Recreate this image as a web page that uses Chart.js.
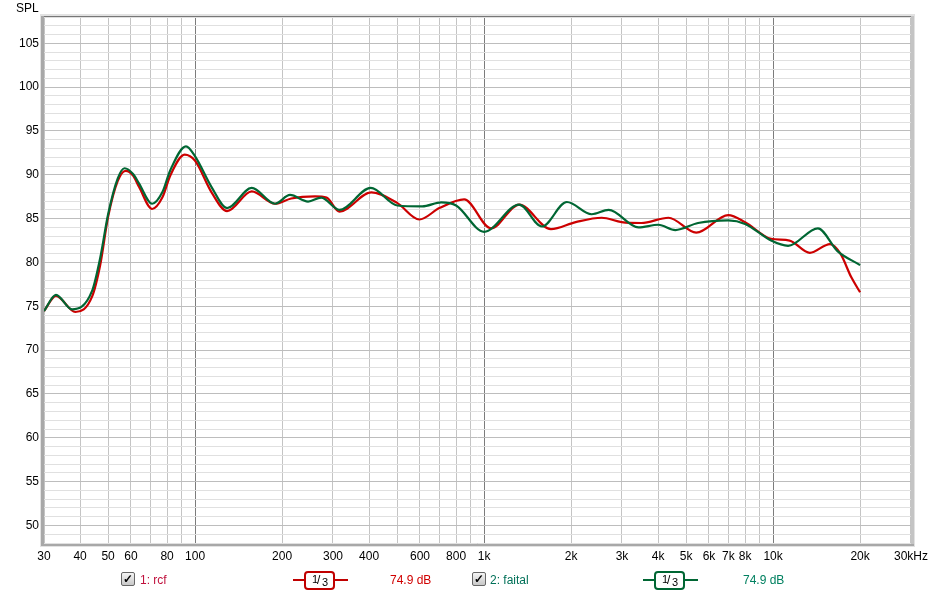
<!DOCTYPE html>
<html>
<head>
<meta charset="utf-8">
<script src="https://cdn.jsdelivr.net/npm/chart.js@4/dist/chart.umd.min.js"></script>
<style>
  body { margin: 0; background: #fff; font-family: "Liberation Sans", Arial, sans-serif; }
  #wrap { position: relative; width: 934px; height: 595px; }
  #spl { position: absolute; left: 16px; top: 1px; font-size: 12px; color: #000; }
  .lg { position: absolute; top: 572px; font-size: 12px; line-height: 16px; white-space: nowrap; }
  .chk { position: absolute; top: 572px; width: 12px; height: 12px; border: 1px solid #666;
         border-radius: 2px; background: linear-gradient(#f4f4f4, #c8c8c8); font-size: 12px; line-height: 12px;
         text-align: center; font-weight: bold; color: #000; }
  .oct { position: absolute; top: 571px; height: 20px; }
  .oct .ln { position: absolute; top: 8px; height: 2px; }
  .oct .bx { position: absolute; top: 0; width: 27px; height: 15px; border: 2px solid; border-radius: 4px;
             background: #fff; color: #000; }
  .oct .n1 { position: absolute; left: 6px; top: 0px; font-size: 11px; }
  .oct .sl { position: absolute; left: 11px; top: 0px; font-size: 12px; }
  .oct .n3 { position: absolute; left: 16px; top: 3px; font-size: 11px; }
</style>
</head>
<body>
<div id="wrap">
  <canvas id="spl-chart" width="934" height="595"></canvas>
  <div id="spl">SPL</div>

  <div class="chk" style="left:121px">&#10003;</div>
  <div class="lg" style="left:140px;color:#c0103c">1: rcf</div>
  <div class="oct" style="left:293px;width:55px">
    <div class="ln" style="left:0;width:55px;background:#c00000"></div>
    <div class="bx" style="left:11px;border-color:#c00000"><span class="n1">1</span><span class="sl">/</span><span class="n3">3</span></div>
  </div>
  <div class="lg" style="left:390px;color:#d00000">74.9 dB</div>

  <div class="chk" style="left:472px">&#10003;</div>
  <div class="lg" style="left:490px;color:#007058">2: faital</div>
  <div class="oct" style="left:643px;width:55px">
    <div class="ln" style="left:0;width:55px;background:#006633"></div>
    <div class="bx" style="left:11px;border-color:#006633"><span class="n1">1</span><span class="sl">/</span><span class="n3">3</span></div>
  </div>
  <div class="lg" style="left:743px;color:#008060">74.9 dB</div>
</div>

<script>
// Frequency response data (Hz, dB SPL)
var rcfFreq = [30, 33, 38.5, 44, 47, 50, 54, 57.5, 61, 64, 71, 77, 82, 92, 100, 114, 129, 157, 189, 215, 260, 285, 316,
  407, 500, 597, 700, 853, 1057, 1322, 1703, 2075, 2553, 2991, 3500, 4345, 5420, 6995, 8000, 9840, 11400,
  13400, 15740, 17100, 18650, 20000];
var rcfSpl = [74.45, 76.2, 74.35, 76.1, 79.8, 85.2, 89.3, 90.45, 89.9, 88.6, 86.1, 87.4, 89.9, 92.3, 91.6, 88.0, 85.85, 88.1, 86.7, 87.3, 87.55, 87.4, 85.8,
  88.0, 86.8, 84.9, 86.2, 87.2, 83.9, 86.6, 83.8, 84.6, 85.1, 84.6, 84.5, 85.1, 83.4, 85.4, 84.6, 82.7, 82.5,
  81.1, 82.1, 81.0, 78.3, 76.6];

var faitalFreq = [30, 33, 37.5, 44, 47, 50, 54, 57, 61, 64, 71, 77, 82, 93, 100, 114, 129, 157, 189, 213, 246, 273, 316,
  405, 501, 611, 711, 800, 1000, 1322, 1585, 1933, 2356, 2697, 3420, 4010, 4590, 5500, 7000, 8000, 9840,
  11270, 14290, 16700, 20000];
var faitalSpl = [74.45, 76.3, 74.65, 76.75, 80.6, 85.5, 89.6, 90.75, 90.1, 89.0, 86.7, 88.0, 90.5, 93.25, 92.1, 88.6, 86.2, 88.5, 86.7, 87.7, 86.95, 87.4, 86.0,
  88.5, 86.5, 86.4, 86.85, 86.5, 83.5, 86.6, 84.1, 86.9, 85.5, 86.0, 84.0, 84.3, 83.7, 84.5, 84.8, 84.4, 82.5,
  81.9, 83.9, 81.3, 79.7];

// Axis ticks
var freqTicks = [30, 40, 50, 60, 70, 80, 90, 100, 200, 300, 400, 500, 600, 700, 800, 900, 1000,
  2000, 3000, 4000, 5000, 6000, 7000, 8000, 9000, 10000, 20000, 30000];
var freqLabels = {30: '30', 40: '40', 50: '50', 60: '60', 80: '80', 100: '100', 200: '200', 300: '300',
  400: '400', 600: '600', 800: '800', 1000: '1k', 2000: '2k', 3000: '3k', 4000: '4k', 5000: '5k',
  6000: '6k', 7000: '7k', 8000: '8k', 10000: '10k', 20000: '20k', 30000: '30kHz'};

function toPoints(xs, ys) {
  return xs.map(function (f, i) { return { x: f, y: ys[i] }; });
}

// Grey frame round the plot area
var framePlugin = {
  id: 'frame',
  beforeDraw: function (chart) {
    var ctx = chart.ctx, a = chart.chartArea;
    var w = a.right - a.left, h = a.bottom - a.top;
    ctx.save();
    ctx.fillStyle = '#e2e2e2';
    ctx.fillRect(a.left - 4, a.top - 3, w + 8, h + 7);
    ctx.fillStyle = '#a8a8a8';
    ctx.fillRect(a.left - 3, a.top - 1, 3, h + 4);
    ctx.fillRect(a.left - 3, a.bottom, w + 6, 3);
    ctx.fillStyle = '#c4c4c4';
    ctx.fillRect(a.right, a.top - 1, 3, h + 2);
    ctx.fillStyle = '#777';
    ctx.fillRect(a.left, a.top - 1, w, 1);
    ctx.fillStyle = '#fff';
    ctx.fillRect(a.left, a.top, w, h);
    ctx.restore();
  }
};

var ctx = document.getElementById('spl-chart').getContext('2d');
var chart = new Chart(ctx, {
  type: 'line',
  data: {
    datasets: [{
      label: '2: faital',
      data: toPoints(faitalFreq, faitalSpl),
      borderColor: '#006633',
      borderWidth: 2.2,
      order: 0
    }, {
      label: '1: rcf',
      data: toPoints(rcfFreq, rcfSpl),
      borderColor: '#cc0000',
      borderWidth: 2.2,
      order: 1
    }]
  },
  options: {
    responsive: false,
    animation: false,
    cubicInterpolationMode: 'monotone',
    pointRadius: 0,
    fill: false,
    layout: { padding: { left: 0, top: 17, right: 21, bottom: 0 } },
    plugins: { legend: { display: false }, tooltip: { enabled: false } },
    scales: {
      x: {
        type: 'logarithmic',
        min: 30,
        max: 30000,
        afterBuildTicks: function (scale) {
          scale.ticks = freqTicks.map(function (v) { return { value: v }; });
        },
        afterFit: function (scale) { scale.height = 52; },
        border: { display: false },
        grid: {
          drawTicks: false,
          color: function (c) {
            var v = c.tick && c.tick.value;
            return (v === 100 || v === 1000 || v === 10000) ? '#7c7c7c' : '#c4c4c4';
          }
        },
        ticks: {
          autoSkip: false,
          maxRotation: 0,
          padding: 6,
          color: '#000',
          font: { family: 'Liberation Sans', size: 12 },
          callback: function (v) { return freqLabels[v] || ''; }
        }
      },
      y: {
        min: 48,
        max: 108,
        afterFit: function (scale) { scale.width = 44; },
        border: { display: false },
        grid: {
          drawTicks: false,
          color: function (c) {
            var v = c.tick && c.tick.value;
            return v % 5 === 0 ? '#bdbdbd' : '#e0e0e0';
          }
        },
        ticks: {
          stepSize: 1,
          autoSkip: false,
          padding: 5,
          color: '#000',
          font: { family: 'Liberation Sans', size: 12 },
          callback: function (v) { return v % 5 === 0 ? String(v) : ''; }
        }
      }
    }
  },
  plugins: [framePlugin]
});
</script>
</body>
</html>
